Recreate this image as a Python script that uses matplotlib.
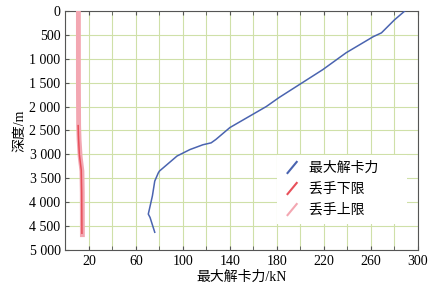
import matplotlib.pyplot as plt
from matplotlib.lines import Line2D
from matplotlib.legend_handler import HandlerLine2D
from matplotlib.ticker import FuncFormatter, MultipleLocator

plt.rcParams['font.family'] = ['Liberation Serif', 'Noto Sans CJK SC']

# 最大解卡力 (kN) vs 深度 (m)
max_force = [289, 280, 269, 262, 239, 219, 182, 171, 140, 128, 124, 117, 106,
             95, 80, 79, 76, 74, 70.5, 72, 76]
max_depth = [0, 190, 460, 540, 875, 1230, 1810, 2000, 2440, 2690, 2760, 2800, 2900,
             3035, 3350, 3390, 3560, 3870, 4250, 4320, 4630]

# 丢手下限 (visible part)
low_force = [10.8, 11.0, 11.8, 13.4, 13.8, 14.0]
low_depth = [2400, 2600, 3000, 3320, 3800, 4650]

# 丢手上限
up_force = [11.0, 11.0, 11.2, 11.6, 12.5, 14.0, 14.3, 14.4]
up_depth = [0, 1500, 2400, 2700, 3050, 3350, 3800, 4680]


class SlantHandler(HandlerLine2D):
    def create_artists(self, legend, orig_handle, xdescent, ydescent,
                       width, height, fontsize, trans):
        line = Line2D([width * 0.2, width * 0.75], [-1, height],
                      color=orig_handle.get_color(), lw=1.5)
        line.set_transform(trans)
        return [line]


fig = plt.figure(figsize=(4.38, 2.86), dpi=100)
ax = fig.add_axes([0.1495, 0.126, 0.8045, 0.836])

ax.plot(up_force, up_depth, color='#f3a7b2', lw=3.5, label='丢手上限', zorder=3)
ax.plot(low_force, low_depth, color='#e8505a', lw=1.1, label='丢手下限', zorder=4)
ax.plot(max_force, max_depth, color='#4a64b0', lw=1.1, label='最大解卡力', zorder=5)

ax.set_xlim(0, 300)
ax.set_ylim(5000, 0)
ax.set_xticks([20, 60, 100, 140, 180, 220, 260, 300])
ax.xaxis.set_minor_locator(MultipleLocator(20))
ax.yaxis.set_major_locator(MultipleLocator(500))
ax.yaxis.set_major_formatter(FuncFormatter(lambda v, p: f'{int(v):,}'.replace(',', ' ')))
ax.grid(True, which='both', axis='x', color='#cfe0a8', lw=0.8)
ax.grid(True, which='major', axis='y', color='#cfe0a8', lw=0.8)
ax.tick_params(direction='in', top=True, length=3, labelsize=10, color='#555555')
ax.tick_params(which='minor', direction='in', top=True, length=3, color='#555555')
for s in ax.spines.values():
    s.set_color('#555555')
    s.set_linewidth(0.8)

ax.set_xlabel('最大解卡力/kN', fontsize=10, labelpad=2)
ax.set_ylabel('深度/m', fontsize=10, labelpad=2)

h, l = ax.get_legend_handles_labels()
order = [2, 1, 0]
leg = ax.legend([h[i] for i in order], [l[i] for i in order], loc='lower left',
                bbox_to_anchor=(0.601, 0.11), frameon=True, framealpha=1, edgecolor='none',
                fontsize=10, handlelength=1.2, handletextpad=0.6,
                handler_map={Line2D: SlantHandler()},
                borderaxespad=0, borderpad=0.5, labelspacing=0.55)
leg.get_frame().set_boxstyle('square', pad=0)
for t in leg.get_texts():
    t.set_text(t.get_text() + '      ')

fig.savefig('out.png', dpi=100)
